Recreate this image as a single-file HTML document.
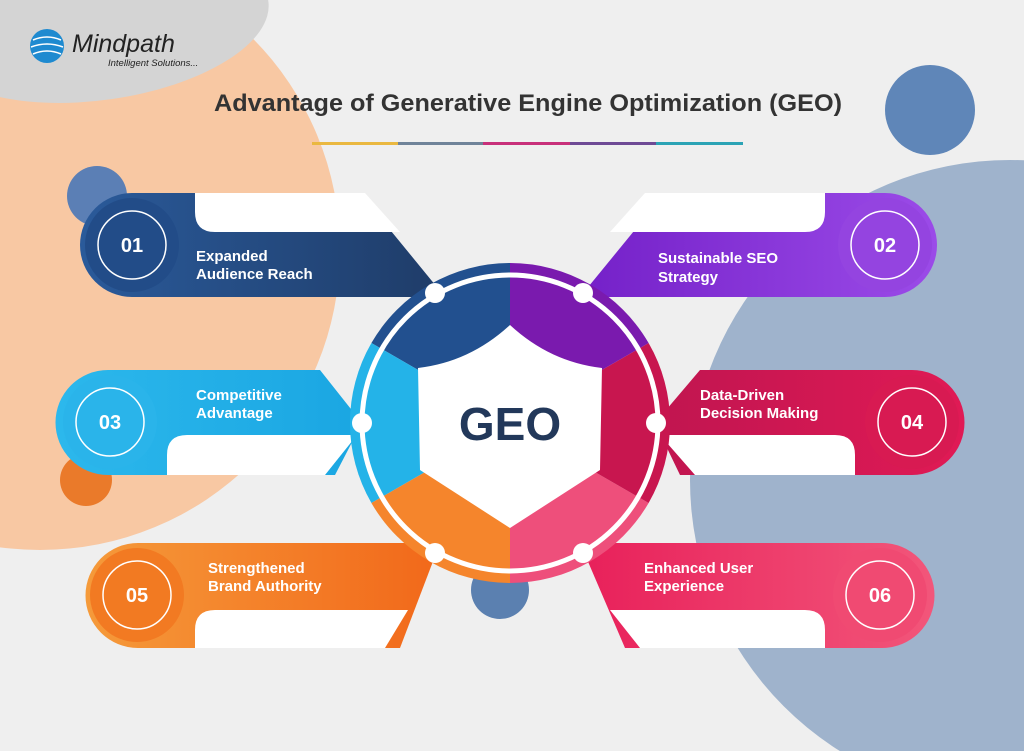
<!DOCTYPE html>
<html><head><meta charset="utf-8"><style>
html,body{margin:0;padding:0;background:#efefef;width:1024px;height:751px;overflow:hidden}
svg{display:block}
text{font-family:"Liberation Sans",sans-serif}
</style></head><body>
<svg width="1024" height="751" viewBox="0 0 1024 751" xmlns="http://www.w3.org/2000/svg">
<defs>
<linearGradient id="g1" x1="0" x2="1"><stop offset="0" stop-color="#2a5a9a"/><stop offset="1" stop-color="#1f3c68"/></linearGradient>
<linearGradient id="g2" x1="0" x2="1"><stop offset="0" stop-color="#7420c8"/><stop offset="1" stop-color="#9b4be8"/></linearGradient>
<linearGradient id="g3" x1="0" x2="1"><stop offset="0" stop-color="#2cb8ec"/><stop offset="1" stop-color="#1aa6e2"/></linearGradient>
<linearGradient id="g4" x1="0" x2="1"><stop offset="0" stop-color="#c01550"/><stop offset="1" stop-color="#e01a55"/></linearGradient>
<linearGradient id="g5" x1="0" x2="1"><stop offset="0" stop-color="#f59a3a"/><stop offset="1" stop-color="#f2681a"/></linearGradient>
<linearGradient id="g6" x1="0" x2="1"><stop offset="0" stop-color="#e8205a"/><stop offset="1" stop-color="#f2567a"/></linearGradient>
</defs>
<rect width="1024" height="751" fill="#efefef"/>
<circle cx="40" cy="250" r="300" fill="#f8c8a3"/>
<ellipse cx="100" cy="25" rx="170" ry="75" fill="#d4d4d4" transform="rotate(-8 100 25)"/>
<circle cx="1010" cy="480" r="320" fill="#9fb3cc"/>
<circle cx="930" cy="110" r="45" fill="#5f86b8"/>
<circle cx="97" cy="196" r="30" fill="#5b7fb5"/>
<circle cx="86" cy="480" r="26" fill="#ea7a2a"/>
<circle cx="500" cy="590" r="29" fill="#5b80b0"/>

<!-- logo -->
<circle cx="47" cy="46" r="17" fill="#1e8ad0"/>
<path d="M33,40 Q47,34 61,40 M31,47 Q47,41 63,47 M33,54 Q47,48 61,54" stroke="#fff" stroke-width="1.5" fill="none"/>
<text x="72" y="52" font-size="25" font-style="italic" fill="#222">Mindpath</text>
<text x="108" y="66" font-size="9.5" font-style="italic" fill="#222">Intelligent Solutions...</text>

<text x="528" y="111" font-size="24" font-weight="bold" fill="#333" text-anchor="middle" textLength="628" lengthAdjust="spacingAndGlyphs">Advantage of Generative Engine Optimization (GEO)</text>
<rect x="312" y="142" width="86" height="3" fill="#eab840"/>
<rect x="398" y="142" width="85" height="3" fill="#6f8399"/>
<rect x="483" y="142" width="87" height="3" fill="#c8307a"/>
<rect x="570" y="142" width="86" height="3" fill="#6e4a95"/>
<rect x="656" y="142" width="87" height="3" fill="#2ba3b5"/>

<!-- card 01 -->
<path d="M132,193 H360 L445,297 H132 A52,52 0 0 1 132,193Z" fill="url(#g1)"/>
<path d="M195,193 H365 L400,232 H215 Q195,232 195,212Z" fill="#fff"/>
<circle cx="132" cy="245" r="47" fill="#224c88"/>
<circle cx="132" cy="245" r="34" fill="none" stroke="#fff" stroke-width="1.5"/>
<text x="132" y="252" font-size="20" font-weight="bold" fill="#fff" text-anchor="middle">01</text>
<text x="196" y="261" font-size="15" font-weight="bold" fill="#fff">Expanded</text>
<text x="196" y="279" font-size="15" font-weight="bold" fill="#fff">Audience Reach</text>

<!-- card 02 -->
<path d="M885,193 H665 L580,297 H885 A52,52 0 0 0 885,193Z" fill="url(#g2)"/>
<path d="M825,193 H645 L610,232 H805 Q825,232 825,212Z" fill="#fff"/>
<circle cx="885" cy="245" r="47" fill="#9444e0"/>
<circle cx="885" cy="245" r="34" fill="none" stroke="#fff" stroke-width="1.5"/>
<text x="885" y="252" font-size="20" font-weight="bold" fill="#fff" text-anchor="middle">02</text>
<text x="658" y="263" font-size="15" font-weight="bold" fill="#fff">Sustainable SEO</text>
<text x="658" y="282" font-size="15" font-weight="bold" fill="#fff">Strategy</text>

<!-- card 03 -->
<path d="M108,370 H320 L362,423 L335,475 H108 A52.5,52.5 0 0 1 108,370Z" fill="url(#g3)"/>
<path d="M357,435 H187 Q167,435 167,455 V475 H325Z" fill="#fff"/>
<circle cx="110" cy="422" r="47" fill="#2ab4ea"/>
<circle cx="110" cy="422" r="34" fill="none" stroke="#fff" stroke-width="1.5"/>
<text x="110" y="429" font-size="20" font-weight="bold" fill="#fff" text-anchor="middle">03</text>
<text x="196" y="400" font-size="15" font-weight="bold" fill="#fff">Competitive</text>
<text x="196" y="418" font-size="15" font-weight="bold" fill="#fff">Advantage</text>

<!-- card 04 -->
<path d="M700,370 H912 A52.5,52.5 0 0 1 912,475 H680 L655,423Z" fill="url(#g4)"/>
<path d="M660,435 H835 Q855,435 855,455 V475 H695Z" fill="#fff"/>
<circle cx="912" cy="422" r="47" fill="#d81a52"/>
<circle cx="912" cy="422" r="34" fill="none" stroke="#fff" stroke-width="1.5"/>
<text x="912" y="429" font-size="20" font-weight="bold" fill="#fff" text-anchor="middle">04</text>
<text x="700" y="400" font-size="15" font-weight="bold" fill="#fff">Data-Driven</text>
<text x="700" y="418" font-size="15" font-weight="bold" fill="#fff">Decision Making</text>

<!-- card 05 -->
<path d="M138,543 H440 L400,648 H138 A52.5,52.5 0 0 1 138,543Z" fill="url(#g5)"/>
<path d="M408,610 H215 Q195,610 195,630 V648 H385Z" fill="#fff"/>
<circle cx="137" cy="595" r="47" fill="#f27a22"/>
<circle cx="137" cy="595" r="34" fill="none" stroke="#fff" stroke-width="1.5"/>
<text x="137" y="602" font-size="20" font-weight="bold" fill="#fff" text-anchor="middle">05</text>
<text x="208" y="573" font-size="15" font-weight="bold" fill="#fff">Strengthened</text>
<text x="208" y="591" font-size="15" font-weight="bold" fill="#fff">Brand Authority</text>

<!-- card 06 -->
<path d="M580,543 H882 A52.5,52.5 0 0 1 882,648 H625Z" fill="url(#g6)"/>
<path d="M610,610 H805 Q825,610 825,630 V648 H640Z" fill="#fff"/>
<circle cx="880" cy="595" r="47" fill="#f04a72"/>
<circle cx="880" cy="595" r="34" fill="none" stroke="#fff" stroke-width="1.5"/>
<text x="880" y="602" font-size="20" font-weight="bold" fill="#fff" text-anchor="middle">06</text>
<text x="644" y="573" font-size="15" font-weight="bold" fill="#fff">Enhanced User</text>
<text x="644" y="591" font-size="15" font-weight="bold" fill="#fff">Experience</text>

<!-- center wheel -->
<g>
<path d="M510,423 L510,263 A160,160 0 0 0 371.4,343 Z" fill="#22508f"/>
<path d="M510,423 L371.4,343 A160,160 0 0 0 371.4,503 Z" fill="#24b3e8"/>
<path d="M510,423 L371.4,503 A160,160 0 0 0 510,583 Z" fill="#f5852c"/>
<path d="M510,423 L510,583 A160,160 0 0 0 648.6,503 Z" fill="#ee4f7b"/>
<path d="M510,423 L648.6,503 A160,160 0 0 0 648.6,343 Z" fill="#c8164f"/>
<path d="M510,423 L648.6,343 A160,160 0 0 0 510,263 Z" fill="#7a1aae"/>
</g>
<path d="M510,325 Q470,362 418,368 L420,470 L510,528 L600,470 L602,368 Q550,362 510,325Z" fill="#fff"/>
<circle cx="510" cy="423" r="148" fill="none" stroke="#fff" stroke-width="5"/>
<g fill="#fff">
<circle cx="435" cy="293" r="10"/><circle cx="583" cy="293" r="10"/>
<circle cx="362" cy="423" r="10"/><circle cx="656" cy="423" r="10"/>
<circle cx="435" cy="553" r="10"/><circle cx="583" cy="553" r="10"/>
</g>
<text x="510" y="440" font-size="46" font-weight="bold" fill="#22385a" text-anchor="middle">GEO</text>
</svg>
</body></html>
